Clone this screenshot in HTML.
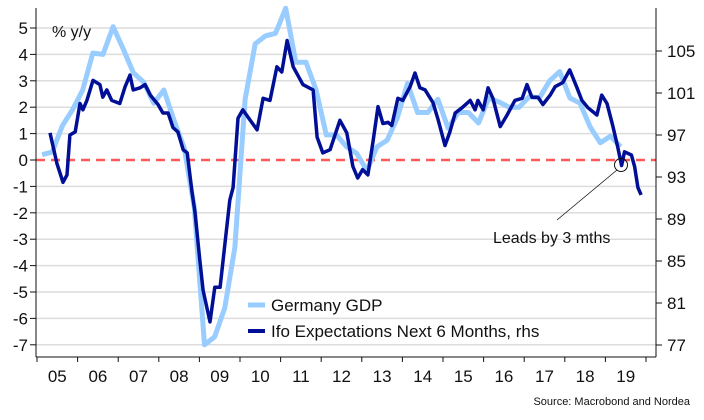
<!DOCTYPE html>
<html><head><meta charset="utf-8"><style>
body{margin:0;background:#fff;}
svg{display:block;font-family:"Liberation Sans",sans-serif;}
</style></head><body>
<svg id="chart" width="704" height="420" viewBox="0 0 704 420" xmlns="http://www.w3.org/2000/svg">
<g id="grid"></g>
<g id="axes"></g>
<g id="series"></g>
<text x="52" y="37" font-size="16" fill="#111">% y/y</text>
<g>
<g><line x1="248" y1="305" x2="265" y2="305" stroke="#99ccff" stroke-width="5"/><text x="271" y="311" font-size="17" fill="#111">Germany GDP</text></g>
<g><line x1="248" y1="331" x2="265" y2="331" stroke="#000f96" stroke-width="4"/><text x="271" y="337" font-size="17" fill="#111">Ifo Expectations Next 6 Months, rhs</text></g>
</g>
<g>
<circle cx="621" cy="165" r="6.5" fill="none" stroke="#111" stroke-width="1"/>
<line x1="617" y1="170" x2="557" y2="220" stroke="#111" stroke-width="0.8"/>
<text x="493" y="243" font-size="16" fill="#111">Leads by 3 mths</text>
</g>
<text x="690" y="405" font-size="11" fill="#111" text-anchor="end">Source: Macrobond and Nordea</text>
</svg>
<script>
const leftTicks=[5,4,3,2,1,0,-1,-2,-3,-4,-5,-6,-7];
const rightTicks=[105,101,97,93,89,85,81,77];
const years=["05","06","07","08","09","10","11","12","13","14","15","16","17","18","19"];
const gdpStart=2005.125;
const gdpValues=[0.2,0.3,1.3,1.9, 2.65,4.05,4.0,5.05, 4.2,3.3,2.95,2.15, 2.65,1.5,0.45,-1.8, -7.0,-6.7,-5.6,-3.3, 2.3,4.4,4.7,4.8, 5.75,3.7,3.7,2.65, 0.95,0.95,0.5,0.25, -0.4,0.5,0.75,1.6, 2.9,1.8,1.8,2.3, 1.2,1.8,1.8,1.4, 2.35,2.2,2.0,2.0, 2.4,2.35,3.0,3.35, 2.35,2.15,1.25,0.65, 0.9,0.5];
const ifoDates=[2005.32,2005.49,2005.64,2005.74,2005.81,2005.94,2006.06,2006.13,2006.23,2006.38,2006.55,2006.62,2006.72,2006.84,2007.04,2007.17,2007.29,2007.37,2007.54,2007.66,2007.79,2007.98,2008.1,2008.23,2008.35,2008.47,2008.6,2008.7,2008.82,2008.89,2009.01,2009.09,2009.26,2009.38,2009.51,2009.63,2009.75,2009.83,2009.95,2010.07,2010.25,2010.42,2010.57,2010.74,2010.91,2011.03,2011.16,2011.31,2011.55,2011.8,2011.9,2012.04,2012.22,2012.46,2012.63,2012.78,2012.9,2013.02,2013.15,2013.28,2013.4,2013.52,2013.65,2013.74,2013.89,2014.01,2014.19,2014.31,2014.43,2014.56,2014.75,2014.87,2015.05,2015.17,2015.3,2015.47,2015.67,2015.79,2015.86,2015.99,2016.11,2016.23,2016.41,2016.58,2016.77,2016.95,2017.07,2017.19,2017.34,2017.46,2017.64,2017.76,2017.95,2018.12,2018.3,2018.42,2018.57,2018.79,2018.91,2019.04,2019.18,2019.3,2019.4,2019.47,2019.64,2019.72,2019.8,2019.88];
const ifoValues=[97.2,94.3,92.5,93.2,97.0,97.3,100.0,99.4,100.3,102.2,101.8,100.6,101.3,100.3,100.0,101.6,102.7,101.3,101.5,101.8,100.8,99.9,99.1,99.1,97.7,97.3,95.6,95.3,91.5,89.7,85.1,82.2,79.2,82.5,82.5,86.7,90.8,92.0,98.6,99.4,98.4,97.5,100.5,100.3,103.5,103.0,106.0,103.5,101.8,101.3,96.8,95.3,95.6,98.4,97.2,94.0,92.9,93.7,93.2,96.5,99.7,98.1,98.2,97.9,100.5,100.3,101.6,102.9,101.5,101.3,100.1,98.6,96.0,97.3,99.1,99.6,100.3,99.4,100.3,99.4,101.5,100.5,97.8,98.9,100.3,100.5,101.8,100.6,100.6,99.9,100.8,101.6,102.0,103.2,101.5,100.3,99.6,98.9,100.8,100.0,97.9,95.9,94.1,95.4,95.1,94.0,92.0,91.3];
const NS="http://www.w3.org/2000/svg";
const X0=37, XW=40.6, L=36, R=656;
function xs(t){return X0+(t-2005)*XW;}
function yl(v){return 160-v*26.4;}
function yr(v){return 177-(v-93)*10.5;}
function mk(tag,attrs,parent){const e=document.createElementNS(NS,tag);for(const k in attrs)e.setAttribute(k,attrs[k]);parent.appendChild(e);return e;}
const grid=document.getElementById('grid'),axes=document.getElementById('axes'),ser=document.getElementById('series');
leftTicks.forEach(v=>{
 if(v!==0){const g=mk('line',{x1:L,x2:R,y1:yl(v),y2:yl(v),stroke:'#dcdcdc','stroke-width':1.5},grid);
 
 }
 const tk=mk('line',{x1:L-6,x2:L,y1:yl(v),y2:yl(v),stroke:'#111','stroke-width':1},axes);
 
 
 const t=mk('text',{x:28,y:yl(v)+6,'font-size':17,'text-anchor':'end',fill:'#111'},axes);
 t.textContent=v;
 
 
});
rightTicks.forEach(v=>{
 const tk=mk('line',{x1:R,x2:R+6,y1:yr(v),y2:yr(v),stroke:'#111','stroke-width':1},axes);
 
 
 const t=mk('text',{x:667,y:yr(v)+6,'font-size':17,fill:'#111'},axes);
 t.textContent=v;
 
 
});
const zl=mk('line',{x1:L,x2:R,y1:yl(0),y2:yl(0),stroke:'#ff5a5a','stroke-width':2.5,'stroke-dasharray':'9 6'},grid);


mk('line',{x1:L,x2:L,y1:8,y2:357,stroke:'#111','stroke-width':1},axes);
mk('line',{x1:R,x2:R,y1:8,y2:357,stroke:'#111','stroke-width':1},axes);
mk('line',{x1:L,x2:R,y1:357,y2:357,stroke:'#111','stroke-width':1},axes);
for(let i=0;i<=years.length;i++){
 const tk=mk('line',{x1:xs(2005+i),x2:xs(2005+i),y1:357,y2:362,stroke:'#111','stroke-width':1},axes);
 
 
}
years.forEach((y,i)=>{
 const t=mk('text',{x:xs(2005.5+i),y:382,'font-size':17,'text-anchor':'middle',fill:'#111'},axes);
 t.textContent=y;
 
 
});
const gp=mk('polyline',{points:gdpValues.map((v,i)=>xs(gdpStart+i*0.25).toFixed(1)+','+yl(v).toFixed(1)).join(' '),fill:'none',stroke:'#99ccff','stroke-width':5,'stroke-linejoin':'round'},ser);


const ip=mk('polyline',{points:ifoValues.map((v,i)=>xs(ifoDates[i]).toFixed(1)+','+yr(v).toFixed(1)).join(' '),fill:'none',stroke:'#000f96','stroke-width':3.5,'stroke-linejoin':'round'},ser);


</script>
</body></html>
